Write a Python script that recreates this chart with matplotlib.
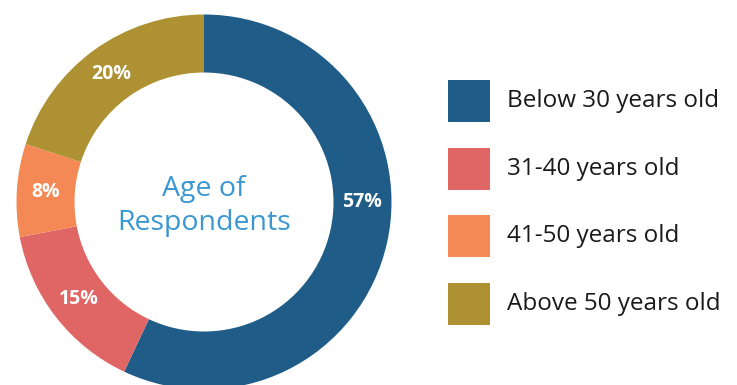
import matplotlib.pyplot as plt
from matplotlib.patches import Rectangle

plt.rcParams['font.family'] = ['Open Sans', 'DejaVu Sans']

# share of respondents per age group
groups = ['Below 30 years old', '31-40 years old', '41-50 years old', 'Above 50 years old']
shares = [57, 15, 8, 20]
colors = ['#1F5C87', '#E06565', '#F48956', '#AD9133']

fig = plt.figure(figsize=(7.37, 3.85), dpi=100)
ax = fig.add_axes([0, 0, 1, 1])

cx, cy, R = 204, 183, 187.5

# donut, drawn in pixel units so the layout is easy to place
wedges, _, pct = ax.pie(shares, colors=colors, startangle=90, counterclock=False,
                        center=(cx, cy), radius=R,
                        wedgeprops=dict(width=58, linewidth=0),
                        autopct=lambda p: f'{p:.0f}%', pctdistance=0.845)
for t in pct:
    t.set_color('white')
    t.set_fontweight('bold')
    t.set_fontsize(14)
# the big slice gets its label level with the centre
pct[0].set_position((cx + 0.845 * R, cy))

ax.text(cx, cy - 4, 'Age of\nRespondents', ha='center', va='center',
        fontsize=20.5, color='#3A97D2', linespacing=1.3)

# legend boxes on the right
for i, (g, c) in enumerate(zip(groups, colors)):
    top = 305 - i * 67.7
    ax.add_patch(Rectangle((448, top - 42), 42, 42, color=c, linewidth=0))
    ax.text(507, top - 21, g, ha='left', va='center', fontsize=17.5, color='#1A1A1A')

ax.set_xlim(0, 737)
ax.set_ylim(0, 385)
ax.set_aspect('equal')
ax.axis('off')

fig.savefig('out.png', dpi=100)
